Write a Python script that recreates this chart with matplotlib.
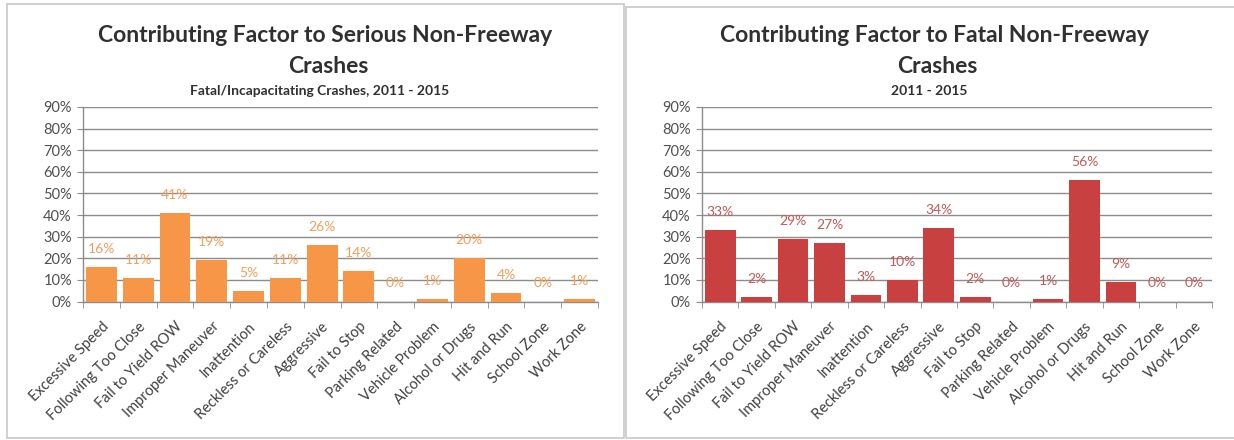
import matplotlib.pyplot as plt
from matplotlib.patches import Rectangle
import numpy as np

plt.rcParams['font.family'] = ['Lato', 'DejaVu Sans']

categories = ['Excessive Speed', 'Following Too Close', 'Fail to Yield ROW',
              'Improper Maneuver', 'Inattention', 'Reckless or Careless',
              'Aggressive', 'Fail to Stop', 'Parking Related', 'Vehicle Problem',
              'Alcohol or Drugs', 'Hit and Run', 'School Zone', 'Work Zone']

serious_pct = [16, 11, 41, 19, 5, 11, 26, 14, 0, 1, 20, 4, 0, 1]
fatal_pct = [33, 2, 29, 27, 3, 10, 34, 2, 0, 1, 56, 9, 0, 0]

y_ticks = [0, 10, 20, 30, 40, 50, 60, 70, 80, 90]

W, H = 1234, 440
fig = plt.figure(figsize=(W / 100, H / 100), dpi=100)


def px(x, y):
    return x / W, 1 - y / H


def box(x0, y0, x1, y1):
    (fx0, fy1), (fx1, fy0) = px(x0, y0), px(x1, y1)
    fig.patches.append(Rectangle((fx0, fy0), fx1 - fx0, fy1 - fy0,
                                 transform=fig.transFigure, fill=False,
                                 edgecolor='#c8c8c8', linewidth=1.2))


def draw_panel(ax, values, bar_color, label_color):
    x = np.arange(len(categories))
    ax.bar(x, values, width=0.84, color=bar_color, zorder=3)
    for xi, v in zip(x, values):
        ax.annotate(f'{v:.0f}%', (xi, v), xytext=(0, 13), textcoords='offset points',
                    ha='center', va='center', fontsize=10, color=label_color, zorder=4)
    ax.set_xlim(-0.5, len(categories) - 0.5)
    ax.set_ylim(0, 90)
    ax.set_yticks(y_ticks)
    ax.set_yticklabels([f'{t}%' for t in y_ticks])
    ax.yaxis.grid(True, color='#8c8c8c', linewidth=1.0, zorder=0)
    ax.set_xticks(x)
    ax.set_xticklabels(categories, rotation=45, ha='right', rotation_mode='anchor')
    ax.set_xticks(np.arange(len(categories) + 1) - 0.5, minor=True)
    ax.tick_params(axis='x', which='major', length=0, pad=13, labelsize=10.5,
                   labelcolor='#404040')
    ax.tick_params(axis='x', which='minor', length=4, color='#8c8c8c')
    ax.tick_params(axis='y', length=4, color='#8c8c8c', labelsize=10.5,
                   labelcolor='#505050', pad=4)
    for side in ('top', 'right'):
        ax.spines[side].set_visible(False)
    for side in ('left', 'bottom'):
        ax.spines[side].set_color('#8c8c8c')
        ax.spines[side].set_linewidth(1.0)


def axes_at(x0, x1, ytop, ybot):
    fx0, fyt = px(x0, ytop)
    fx1, fyb = px(x1, ybot)
    return fig.add_axes([fx0, fyb, fx1 - fx0, fyt - fyb])


# panel frames
box(7, 4, 624, 438)
box(626, 7, 1240, 438)

ax1 = axes_at(83, 598, 107, 301.5)
draw_panel(ax1, serious_pct, '#F79646', '#F0A05A')

ax2 = axes_at(702, 1212, 107, 301.5)
draw_panel(ax2, fatal_pct, '#C8403F', '#C05A58')

# titles
for cx, line1, sub in [(325, 'Contributing Factor to Serious Non-Freeway',
                        'Fatal/Incapacitating Crashes, 2011 - 2015'),
                       (934, 'Contributing Factor to Fatal Non-Freeway', '2011 - 2015')]:
    fig.text(*px(cx, 42), line1, ha='center', va='baseline', fontsize=16.5,
             fontweight='bold', color='#303030')
    fig.text(*px(cx + 3, 73), 'Crashes', ha='center', va='baseline', fontsize=16.5,
             fontweight='bold', color='#303030')
    fig.text(*px(cx - 5, 95), sub, ha='center', va='baseline', fontsize=10,
             fontweight='bold', color='#303030')

fig.savefig('out.png', dpi=100)
